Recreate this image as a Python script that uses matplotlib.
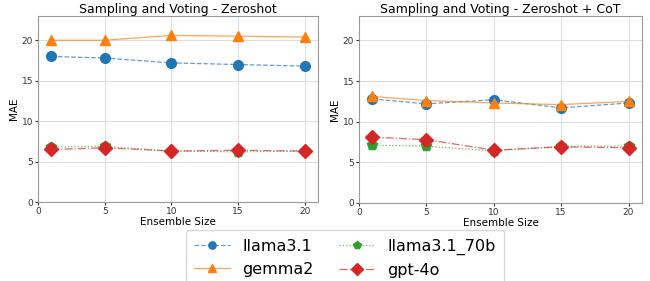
import matplotlib
matplotlib.use("Agg")
import matplotlib.pyplot as plt
from matplotlib.colors import to_rgba

ensemble = [1, 5, 10, 15, 20]
models = ["llama3.1", "gemma2", "llama3.1_70b", "gpt-4o"]

zs_llama = [18.0, 17.8, 17.2, 17.0, 16.8]
zs_gemma = [20.0, 20.0, 20.6, 20.5, 20.4]
zs_llama70 = [6.8, 6.9, 6.3, 6.2, 6.3]
zs_gpt = [6.5, 6.7, 6.3, 6.4, 6.3]

cot_llama = [12.8, 12.2, 12.7, 11.7, 12.3]
cot_gemma = [13.1, 12.6, 12.3, 12.1, 12.5]
cot_llama70 = [7.1, 7.0, 6.4, 7.0, 7.0]
cot_gpt = [8.1, 7.8, 6.5, 6.9, 6.8]

titles = ["Sampling and Voting - Zeroshot", "Sampling and Voting - Zeroshot + CoT"]
series = [[zs_llama, zs_gemma, zs_llama70, zs_gpt],
          [cot_llama, cot_gemma, cot_llama70, cot_gpt]]

colors = ["#1f77b4", "#ff7f0e", "#2ca02c", "#d62728"]
styles = ["--", "-", ":", "-."]
markers = ["o", "^", "p", "D"]
msizes = [7, 7.5, 7.5, 7.5]

fig = plt.figure(figsize=(6.5, 2.81), dpi=100)
axes = [fig.add_axes([38/650, 1-202/281, 280/650, 186/281]),
        fig.add_axes([359/650, 1-203/281, 283/650, 187/281])]

handles = []
for ax, title, data in zip(axes, titles, series):
    for i, (name, vals) in enumerate(zip(models, data)):
        h, = ax.plot(ensemble, vals, linestyle=styles[i], marker=markers[i],
                     color=to_rgba(colors[i], 0.7),
                     markerfacecolor=colors[i], markeredgecolor=colors[i],
                     markersize=msizes[i], linewidth=0.9, label=name)
        if ax is axes[0]:
            handles.append(h)
    ax.set_xlim(0, 21)
    ax.set_ylim(0, 23)
    ax.set_xticks([0, 5, 10, 15, 20])
    ax.set_yticks([0, 5, 10, 15, 20])
    ax.grid(True, color="#dddddd", linewidth=0.8)
    ax.set_axisbelow(True)
    ax.tick_params(labelsize=6.5, length=2, pad=1.5, colors="#333333")
    for s in ax.spines.values():
        s.set_color("#999999")
    ax.set_title(title, fontsize=9, pad=2)
    ax.set_xlabel("Ensemble Size", fontsize=7.5, labelpad=1)
    ax.set_ylabel("MAE", fontsize=7.5, labelpad=2)

fig.legend(handles=handles, labels=models, ncol=2, loc="upper center",
           bbox_to_anchor=(345/650, 1-230/281), borderaxespad=0,
           fontsize=11.5, frameon=True,
           handlelength=2.2, columnspacing=1.6, borderpad=0.55,
           labelspacing=0.5, markerscale=0.75)

fig.savefig("out.png", dpi=100)
